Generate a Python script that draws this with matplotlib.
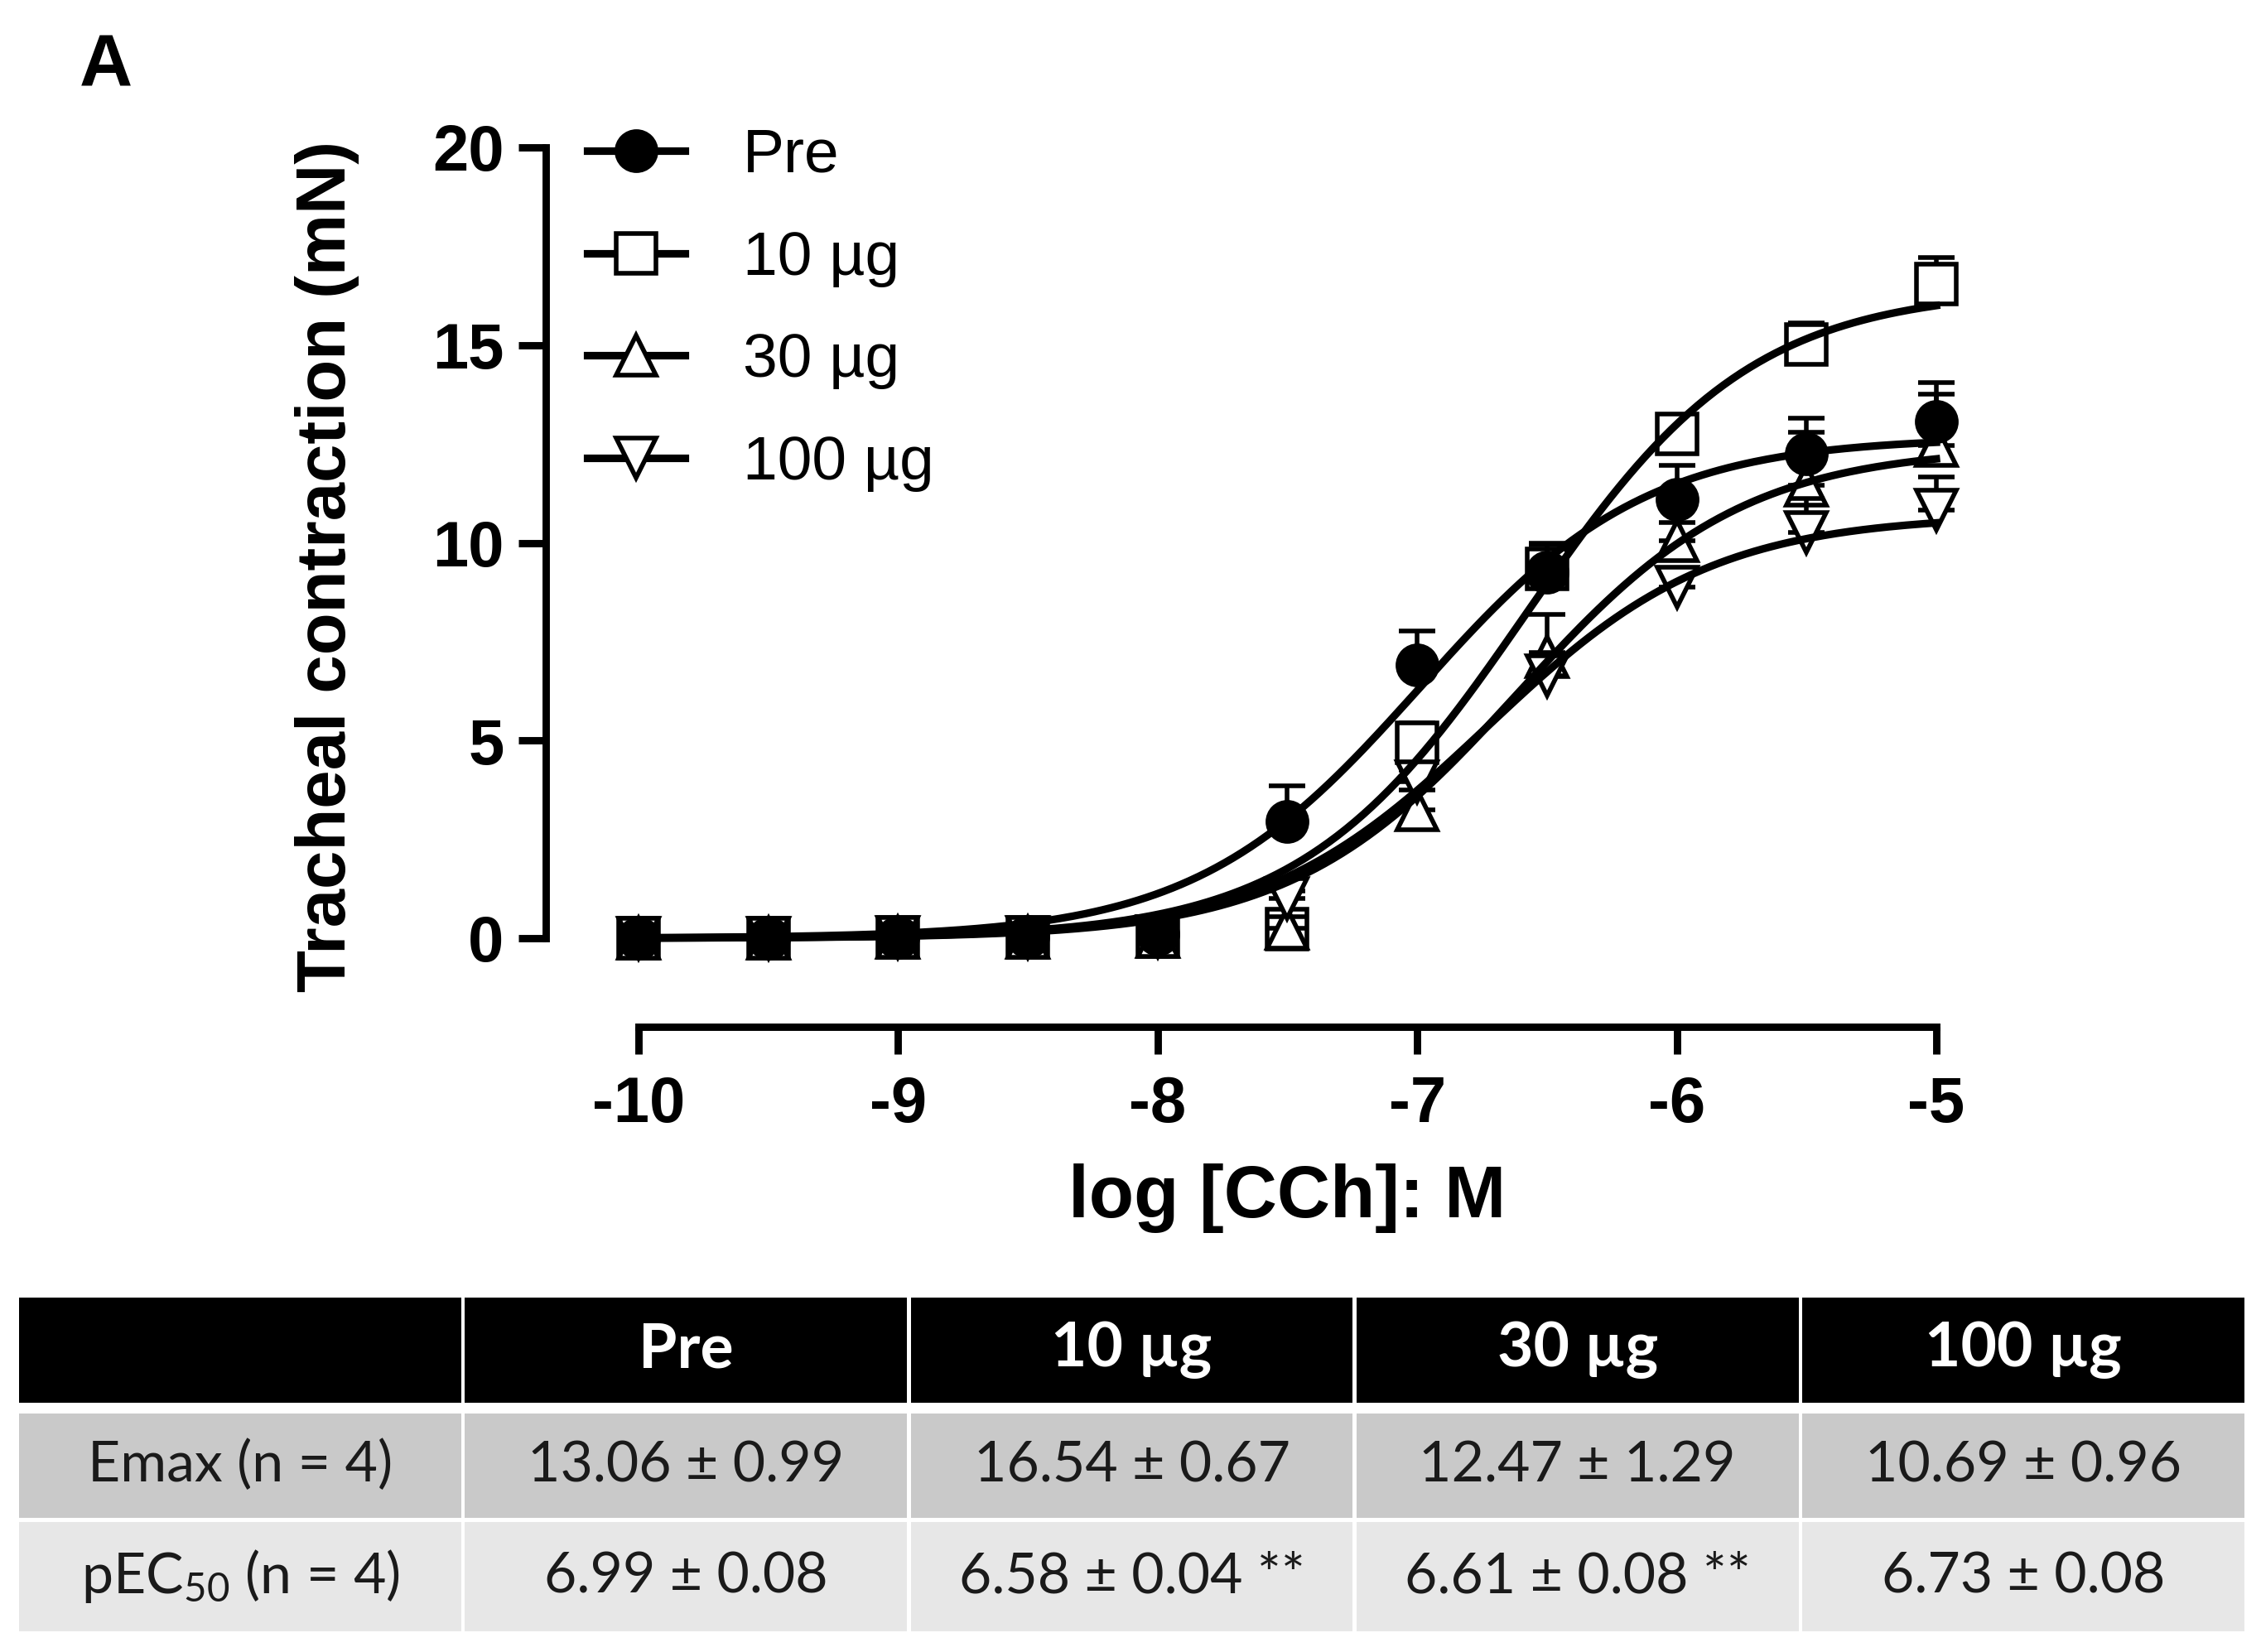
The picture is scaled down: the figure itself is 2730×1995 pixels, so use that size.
import numpy as np
import matplotlib.pyplot as plt
from matplotlib.lines import Line2D
from matplotlib.patches import Rectangle

plt.rcParams['axes.unicode_minus'] = False
plt.rcParams['mathtext.fontset'] = 'custom'
plt.rcParams['mathtext.rm'] = 'Lato'
plt.rcParams['mathtext.it'] = 'Lato:italic'

# log [CCh] (M)
log_cch = [-10, -9.5, -9, -8.5, -8, -7.5, -7, -6.5, -6, -5.5, -5]

groups = ['Pre', '10 µg', '30 µg', '100 µg']

# mean contraction (mN) and SEM
pre_mean = [0, 0, 0.02, 0.05, 0.10, 2.95, 6.92, 9.25, 11.10, 12.26, 13.06]
pre_sem = [0, 0, 0, 0, 0.05, 0.90, 0.86, 0.70, 0.85, 0.90, 0.99]
d10_mean = [0, 0, 0.02, 0.03, 0.05, 0.22, 4.95, 9.35, 12.75, 15.01, 16.54]
d10_sem = [0, 0, 0, 0, 0.05, 0.40, 0.50, 0.63, 0.30, 0.55, 0.67]
d30_mean = [0, 0, 0.02, 0.03, 0.05, 0.25, 3.25, 7.13, 10.06, 11.45, 12.47]
d30_sem = [0, 0, 0, 0, 0.05, 0.30, 0.50, 1.05, 0.45, 1.35, 1.29]
d100_mean = [0, 0, 0.02, 0.03, 0.05, 1.00, 3.95, 6.63, 8.87, 10.27, 10.82]
d100_sem = [0, 0, 0, 0, 0.05, 0.20, 0.30, 0.60, 0.46, 0.86, 0.84]

# fitted sigmoid parameters (top, logEC50, Hill slope)
fit_top = [12.67, 16.42, 12.42, 10.70]
fit_logec50 = [-6.99, -6.58, -6.61, -6.73]
fit_hill = [1.0, 1.0, 1.0, 1.0]

# table
row_labels = ['Emax (n = 4)', 'pEC$_{50}$ (n = 4)']
emax_text = ['13.06 ± 0.99', '16.54 ± 0.67', '12.47 ± 1.29', '10.69 ± 0.96']
pec50_text = ['6.99 ± 0.08', '6.58 ± 0.04 **', '6.61 ± 0.08 **', '6.73 ± 0.08']

means = [pre_mean, d10_mean, d30_mean, d100_mean]
sems = [pre_sem, d10_sem, d30_sem, d100_sem]
markers = ['o', 's', '^', 'v']
faces = ['black', 'white', 'white', 'white']

W, H = 2730, 1995
fig = plt.figure(figsize=(W / 200, H / 200), dpi=200)

ax = fig.add_axes([771 / W, 1 - 1133 / H, (2338 - 771) / W, (1133 - 178) / H])
ax.set_xlim(-10, -5)
ax.set_ylim(0, 20)

x = np.array(log_cch)
xs = np.linspace(-10, -5, 300)
# doses first, the filled Pre circles last so they sit on top
for i in [1, 2, 3, 0]:
    m = np.array(means[i])
    s = np.array(sems[i])
    ax.errorbar(x, m, yerr=[np.zeros_like(s), s], fmt='none', ecolor='black',
                elinewidth=2.0, capsize=8, capthick=2.0, clip_on=False, zorder=3)
    ax.plot(x, m, linestyle='none', marker=markers[i], ms=17, mfc=faces[i],
            mec='black', mew=2.0, clip_on=False, zorder=3)
for i in range(4):
    fit = fit_top[i] / (1 + 10 ** ((fit_logec50[i] - xs) * fit_hill[i]))
    ax.plot(xs, fit, color='black', lw=3.3, clip_on=False, zorder=4)

for side in ['top', 'right']:
    ax.spines[side].set_visible(False)
ax.spines['left'].set_position(('outward', 40.5))
ax.spines['bottom'].set_position(('outward', 38.5))
for side in ['left', 'bottom']:
    ax.spines[side].set_linewidth(3.2)
ax.set_xticks([-10, -9, -8, -7, -6, -5])
ax.set_yticks([0, 5, 10, 15, 20])
ax.tick_params(width=3.2, length=12, pad=6)
for lab in ax.get_xticklabels() + ax.get_yticklabels():
    lab.set_fontfamily('Liberation Sans')
    lab.set_fontweight('bold')
    lab.set_fontsize(28)
ax.tick_params(axis='x', pad=9)

ax.set_xlabel('log [CCh]: M', fontfamily='Liberation Sans', fontweight='bold', fontsize=32)
ax.xaxis.set_label_coords(0.5, -0.285)
ax.set_ylabel('Tracheal contraction (mN)', fontfamily='Liberation Sans', fontweight='bold', fontsize=30)
ax.yaxis.set_label_coords(-0.215, 0.47)

handles = [Line2D([], [], color='black', lw=3.3, marker=markers[i], ms=17,
                  mfc=faces[i], mec='black', mew=2.0) for i in range(4)]
leg = ax.legend(handles, groups, loc='upper left', bbox_to_anchor=(709 / W, 1 - 154 / H),
                bbox_transform=fig.transFigure, frameon=False, borderpad=0, borderaxespad=0,
                handlelength=1.57, handletextpad=0.93, labelspacing=0.73,
                prop={'family': 'Liberation Sans', 'size': 27})

fig.text(96 / W, 1 - 105 / H, 'A', fontfamily='Liberation Sans', fontweight='bold',
         fontsize=32, ha='left', va='baseline')

# table
tab = fig.add_axes([21 / W, 1 - 1970 / H, (2712 - 21) / W, (1970 - 1567) / H])
tab.set_xlim(0, 5)
tab.set_ylim(403, 0)
tab.axis('off')
row_spans = [(0, 127), (140, 266), (271, 403)]
row_colors = ['black', '#c9c9c9', '#e7e7e7']
gap = 0.008
header = [''] + groups
body = [[row_labels[0]] + emax_text, [row_labels[1]] + pec50_text]
for r, (y0, y1) in enumerate(row_spans):
    for c in range(5):
        tab.add_patch(Rectangle((c + gap / 2, y0), 1 - gap, y1 - y0,
                                facecolor=row_colors[r], edgecolor='none'))
        if r == 0:
            tab.text(c + 0.5, (y0 + y1) / 2, header[c], color='white', fontfamily='Lato',
                     fontweight='bold', fontsize=27, ha='center', va='center')
        else:
            tab.text(c + 0.5, (y0 + y1) / 2, body[r - 1][c], color='#1a1a1a', fontfamily='Lato',
                     fontsize=24.5, ha='center', va='center')

fig.savefig('out.png', dpi=200)
